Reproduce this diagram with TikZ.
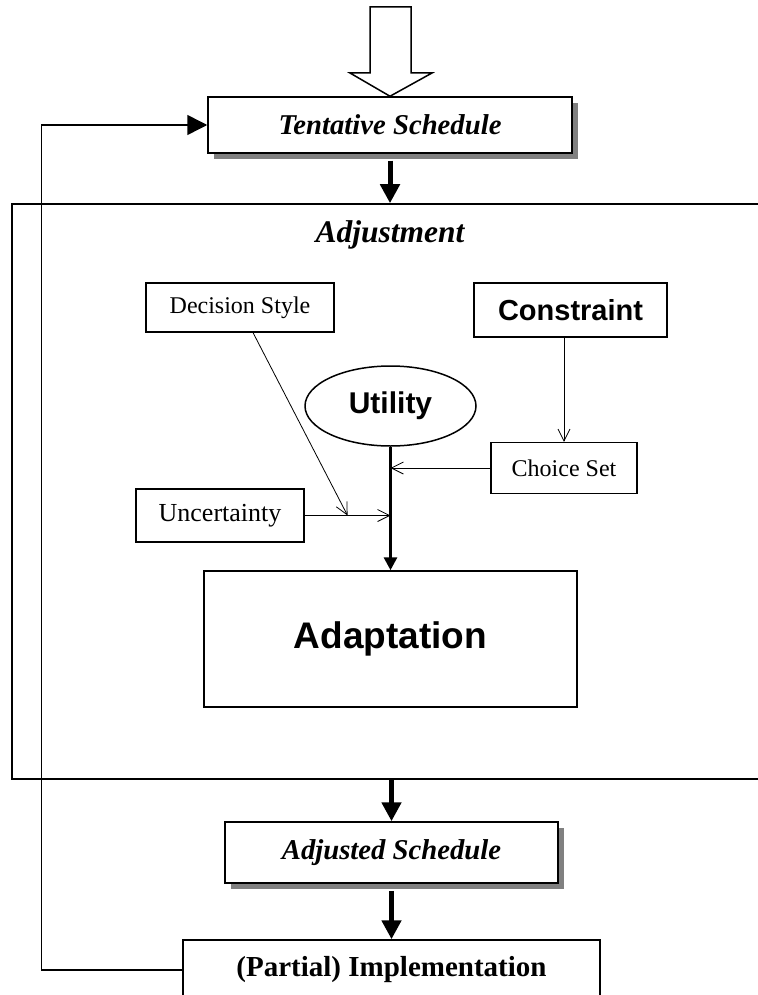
\documentclass[tikz,border=0pt]{standalone}
\usepackage{fontspec}
\setmainfont{Liberation Serif}
\newfontfamily\arialfont{Liberation Sans}
\usetikzlibrary{arrows.meta,
                calc,
                positioning,
                shapes.geometric,
                shadows}

\begin{document}
\begin{tikzpicture}[x=1pt,y=-1pt,
  box/.style={draw,line width=1.5pt,inner sep=0pt,fill=white},
  sched/.style={box,drop shadow={shadow xshift=6pt,shadow yshift=-6pt,fill=gray,opacity=1},
                font=\fontsize{28.7}{32}\selectfont\bfseries\itshape},
  factor/.style={box,line width=1.2pt,font=\fontsize{24}{28}\selectfont},
  sansbold/.style={font=\arialfont\bfseries\fontsize{#1}{#1}\selectfont},
  bigarrow/.style={line width=5pt,-{Triangle[length=19pt,width=19pt]}},
  thinarrow/.style={line width=0.8pt,-{Straight Barb[length=12pt,width=12pt]}}]
\useasboundingbox (0,0) rectangle (757,995);

% outer frame
\node[box,line width=1.5pt,fill=none,minimum width=758pt,minimum height=575pt] (adjbox) at (391,491.5) {};
\node[font=\fontsize{31.5}{34}\selectfont\bfseries\itshape] (adjtitle) at (390,235) {Adjustment};

% schedules
\node[sched,minimum width=364pt,minimum height=56pt] (tent) at (390,125) {Tentative Schedule};
\node[sched,minimum width=333pt,minimum height=61pt] (adjd) at (391.5,852.5) {Adjusted Schedule};
\node[box,minimum width=417pt,minimum height=60pt,font=\fontsize{29}{32}\selectfont\bfseries] (impl) at (391.5,970) {(Partial) Implementation};

% input arrow
\draw[line width=1.5pt,fill=white] (370,7) -- (411,7) -- (411,73) -- (432,73)
  -- (tent.north) -- (350,73) -- (370,73) -- cycle;

% inner boxes
\node[factor,minimum width=188pt,minimum height=49pt] (dec) at (240,307.5) {Decision Style};
\node[box,sansbold=29,minimum width=193pt,minimum height=54pt] (cons) at (570.5,310) {Constraint};
\node[factor,minimum width=146pt,minimum height=51pt] (choice) at (564,468) {Choice Set};
\node[factor,minimum width=168pt,minimum height=53pt,font=\fontsize{26}{28}\selectfont] (unc) at (220,515.5) {Uncertainty};
\node[draw,ellipse,line width=1.5pt,inner sep=0pt,sansbold=30,minimum width=171pt,minimum height=80pt] (util) at (390.5,406) {Utility};
\node[box,sansbold=37,minimum width=373pt,minimum height=136pt] (adapt) at (390.5,639) {Adaptation};

\coordinate (jc) at (util.south |- choice.west);
\coordinate (ju) at (util.south |- unc.east);
\coordinate (jd) at ($(unc.east)!0.5!(ju)$);

% connectors
\draw[bigarrow] ([yshift=-7pt]tent.south) -- (tent.south |- adjbox.north);
\draw[line width=3pt,-{Triangle[length=13pt,width=13pt]}] (util.south) -- (adapt.north);
\draw[thinarrow] (cons.south -| choice.north) -- (choice.north);
\draw[thinarrow] (choice.west) -- (jc);
\draw[thinarrow] (unc.east) -- (ju);
\draw[thinarrow] ([xshift=13pt]dec.south) -- (jd);
\draw[bigarrow] (adjd.north |- adjbox.south) -- (adjd.north);
\draw[bigarrow] ([yshift=-7pt]adjd.south) -- (adjd.south |- impl.north);

% feedback loop
\draw[line width=1.5pt,-{Triangle[length=20pt,width=20pt]}] (impl.west) -- ++(-141,0) |- (tent.west);
\end{tikzpicture}
\end{document}
